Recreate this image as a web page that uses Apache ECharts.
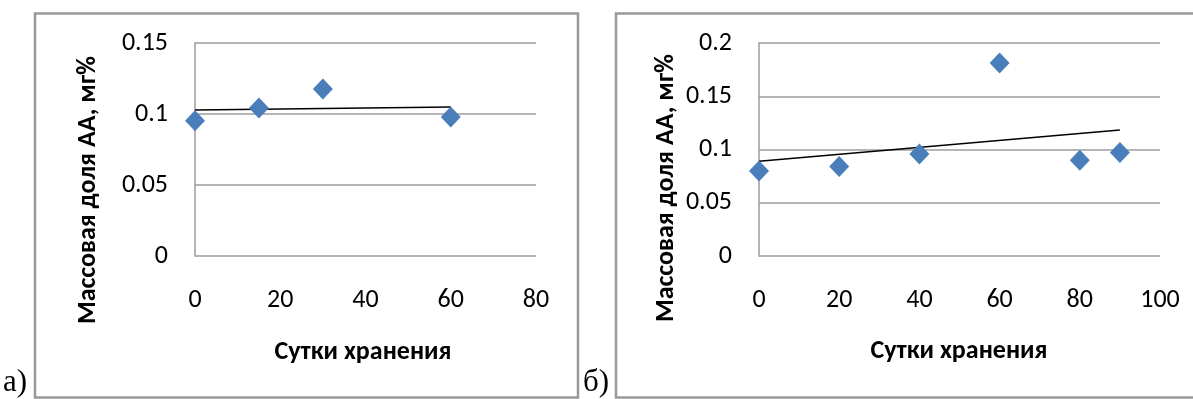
<!DOCTYPE html>
<html>
<head>
<meta charset="utf-8">
<script src="https://cdn.jsdelivr.net/npm/echarts@6/dist/echarts.min.js"></script>
<style>
html,body{margin:0;padding:0;background:#fff;}
#c{width:1193px;height:399px;}
</style>
</head>
<body>
<div id="c"></div>
<script>
// Chart a)
const daysA = [0, 15, 30, 60];
const valuesA = [0.0952, 0.1043, 0.1176, 0.0979];
const xTicksA = [0, 20, 40, 60, 80];
const yTicksA = [0, 0.05, 0.1, 0.15];
// Chart б)
const daysB = [0, 20, 40, 60, 80, 90];
const valuesB = [0.0797, 0.0841, 0.0958, 0.1812, 0.0898, 0.0973];
const xTicksB = [0, 20, 40, 60, 80, 100];
const yTicksB = [0, 0.05, 0.1, 0.15, 0.2];

const yTitle = 'Массовая доля АА, мг%';
const xTitle = 'Сутки хранения';

function trend(xs, ys) {
  const n = xs.length;
  const mx = xs.reduce((a, b) => a + b, 0) / n;
  const my = ys.reduce((a, b) => a + b, 0) / n;
  let sxy = 0, sxx = 0;
  for (let i = 0; i < n; i++) { sxy += (xs[i] - mx) * (ys[i] - my); sxx += (xs[i] - mx) ** 2; }
  const k = sxy / sxx, b = my - k * mx;
  const x0 = Math.min(...xs), x1 = Math.max(...xs);
  return [[x0, k * x0 + b], [x1, k * x1 + b]];
}

const FONT = "Carlito, Lato, 'Open Sans', sans-serif";
const gridCol = '#9c9c9c';
const blue = '#4a7ebb';

function xAxis(idx, ticks) {
  return {
    type: 'value', gridIndex: idx, min: ticks[0], max: ticks[ticks.length - 1], interval: 20,
    axisLine: { show: false }, axisTick: { show: false }, splitLine: { show: false },
    axisLabel: { margin: 31, fontSize: 26, color: '#000', fontFamily: FONT }
  };
}
function yAxis(idx, ticks) {
  return {
    type: 'value', gridIndex: idx, min: ticks[0], max: ticks[ticks.length - 1], interval: 0.05,
    axisLine: { show: true, lineStyle: { color: gridCol, width: 1.5 } }, axisTick: { show: false },
    splitLine: { show: true, lineStyle: { color: gridCol, width: 1.5 } },
    axisLabel: { margin: 27, fontSize: 26, color: '#000', fontFamily: FONT,
      formatter: v => String(+v.toFixed(2)) }
  };
}

const chart = echarts.init(document.getElementById('c'), null, { renderer: 'canvas' });
chart.setOption({
  backgroundColor: '#fff',
  animation: false,
  grid: [
    { left: 195, right: 1193 - 536, top: 43, bottom: 399 - 256 },
    { left: 759, right: 1193 - 1160, top: 43, bottom: 399 - 256 }
  ],
  xAxis: [xAxis(0, xTicksA), xAxis(1, xTicksB)],
  yAxis: [yAxis(0, yTicksA), yAxis(1, yTicksB)],
  series: [
    { type: 'line', xAxisIndex: 0, yAxisIndex: 0, data: trend(daysA, valuesA), symbol: 'none',
      lineStyle: { color: '#000', width: 1.5 }, z: 3 },
    { type: 'scatter', xAxisIndex: 0, yAxisIndex: 0, data: daysA.map((d, i) => [d, valuesA[i]]),
      symbol: 'diamond', symbolSize: [20, 21], itemStyle: { color: blue, opacity: 1 }, z: 4 },
    { type: 'line', xAxisIndex: 1, yAxisIndex: 1, data: trend(daysB, valuesB), symbol: 'none',
      lineStyle: { color: '#000', width: 1.5 }, z: 3 },
    { type: 'scatter', xAxisIndex: 1, yAxisIndex: 1, data: daysB.map((d, i) => [d, valuesB[i]]),
      symbol: 'diamond', symbolSize: [20, 21], itemStyle: { color: blue, opacity: 1 }, z: 4 }
  ],
  graphic: [
    { type: 'rect', shape: { x: 35, y: 13.5, width: 543, height: 384 }, style: { fill: 'none', stroke: '#999', lineWidth: 2.5 }, z: -1 },
    { type: 'rect', shape: { x: 616, y: 13.5, width: 590, height: 384 }, style: { fill: 'none', stroke: '#999', lineWidth: 2.5 }, z: -1 },
    { type: 'text', x: 88, y: 190, rotation: Math.PI / 2,
      style: { text: yTitle, font: "bold 26px " + FONT, fill: '#000', align: 'center', verticalAlign: 'middle' } },
    { type: 'text', x: 666, y: 188, rotation: Math.PI / 2,
      style: { text: yTitle, font: "bold 26px " + FONT, fill: '#000', align: 'center', verticalAlign: 'middle' } },
    { type: 'text', x: 363, y: 352,
      style: { text: xTitle, font: "bold 26px " + FONT, fill: '#000', align: 'center', verticalAlign: 'middle' } },
    { type: 'text', x: 959, y: 351,
      style: { text: xTitle, font: "bold 26px " + FONT, fill: '#000', align: 'center', verticalAlign: 'middle' } },
    { type: 'text', x: 3, y: 398,
      style: { text: 'а)', font: "31px 'Liberation Serif', 'Times New Roman', serif", fill: '#000', align: 'left', verticalAlign: 'bottom' } },
    { type: 'text', x: 583, y: 398,
      style: { text: 'б)', font: "31px 'Liberation Serif', 'Times New Roman', serif", fill: '#000', align: 'left', verticalAlign: 'bottom' } }
  ]
});
</script>
</body>
</html>
